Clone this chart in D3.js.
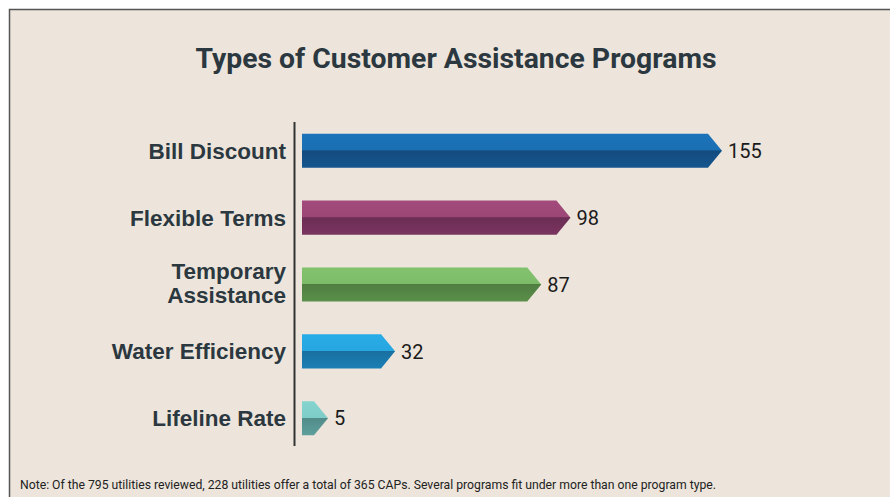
<!DOCTYPE html>
<html>
  <head>
    <meta charset="UTF-8" />
    <style>
      body { margin: 0; background: #fff; }
      svg { display: block; }
    </style>
  </head>
  <body>
    <svg></svg>
    <script src="https://d3js.org/d3.v7.min.js"></script>
    <script>
      let width = 890,
        height = 497;

      // data
      const categories = ["Bill Discount", "Flexible Terms", "Temporary Assistance", "Water Efficiency", "Lifeline Rate"];
      const values = [155, 98, 87, 32, 5];
      const topColors = ["#1b6fb3", "#9c4777", "#7dbb69", "#27a6e0", "#7fcdc9"];
      const bottomColors = ["#16558f", "#7a3460", "#5b8f4a", "#1c7fb5", "#5d9f9c"];
      const title = "Types of Customer Assistance Programs";
      const note = "Note: Of the 795 utilities reviewed, 228 utilities offer a total of 365 CAPs. Several programs fit under more than one program type.";

      let svg = d3.select("svg").attr("width", width).attr("height", height);

      // panel
      svg.append("rect")
        .attr("x", 9.5).attr("y", 9.5)
        .attr("width", width).attr("height", height)
        .attr("fill", "#ede5db")
        .attr("stroke", "#555").attr("stroke-width", 1.5);

      svg.append("text")
        .attr("x", 456).attr("y", 68)
        .attr("text-anchor", "middle")
        .attr("font-family", "Roboto, sans-serif")
        .attr("font-weight", "bold")
        .attr("font-size", 28)
        .attr("fill", "#2c3840")
        .attr("textLength", 521)
        .attr("lengthAdjust", "spacingAndGlyphs")
        .text(title);

      let y = d3.scaleBand()
        .domain(categories)
        .range([117, 452])
        .paddingInner(0.49)
        .paddingOuter(0.25);

      let x = d3.scaleLinear().domain([0, 155]).range([310, 722]);
      const x0 = 302, tip = 14;

      let defs = svg.append("defs");
      categories.forEach((c, i) => {
        let g = defs.append("linearGradient")
          .attr("id", "g" + i)
          .attr("x1", 0).attr("y1", 0).attr("x2", 0).attr("y2", 1);
        g.append("stop").attr("offset", "0%").attr("stop-color", d3.color(topColors[i]).brighter(0.1));
        g.append("stop").attr("offset", "48%").attr("stop-color", topColors[i]);
        g.append("stop").attr("offset", "50%").attr("stop-color", d3.color(bottomColors[i]).darker(0.35));
        g.append("stop").attr("offset", "100%").attr("stop-color", bottomColors[i]);
      });

      let rows = svg.append("g")
        .selectAll("g")
        .data(categories)
        .join("g");

      rows.append("path")
        .attr("d", (d, i) => {
          let t = y(d), b = t + y.bandwidth(), m = t + y.bandwidth() / 2;
          let xe = Math.max(x(values[i]), x0 + tip + 12);
          return "M" + x0 + "," + t + "L" + (xe - tip) + "," + t + "L" + xe + "," + m +
            "L" + (xe - tip) + "," + b + "L" + x0 + "," + b + "Z";
        })
        .attr("fill", (d, i) => "url(#g" + i + ")");

      rows.append("text")
        .attr("x", (d, i) => Math.max(x(values[i]), x0 + tip + 12) + 6)
        .attr("y", d => y(d) + y.bandwidth() / 2)
        .attr("dy", "0.36em")
        .attr("font-family", "Roboto, sans-serif")
        .attr("font-size", 20)
        .attr("fill", "#1a1a1a")
        .text((d, i) => values[i]);

      // category labels
      rows.append("text")
        .attr("x", 286)
        .attr("y", d => y(d) + y.bandwidth() / 2)
        .attr("text-anchor", "end")
        .attr("font-family", "'Liberation Sans', Arial, sans-serif")
        .attr("font-weight", "bold")
        .attr("font-size", 22.5)
        .attr("fill", "#2c3840")
        .each(function (d) {
          let words = d.split(" ");
          let lines = d === "Temporary Assistance" ? words : [d];
          let t = d3.select(this);
          lines.forEach((l, k) => {
            t.append("tspan")
              .attr("x", 286)
              .attr("dy", k === 0 ? (0.36 - (lines.length - 1) * 0.6) + "em" : "1.05em")
              .text(l);
          });
        });

      svg.append("line")
        .attr("x1", 294.5).attr("x2", 294.5)
        .attr("y1", 122).attr("y2", 446)
        .attr("stroke", "#333").attr("stroke-width", 2);

      svg.append("text")
        .attr("x", 20).attr("y", 489)
        .attr("font-family", "Roboto, sans-serif")
        .attr("font-size", 13.5)
        .attr("fill", "#222")
        .attr("textLength", 696)
        .attr("lengthAdjust", "spacingAndGlyphs")
        .text(note);
    </script>
  </body>
</html>
